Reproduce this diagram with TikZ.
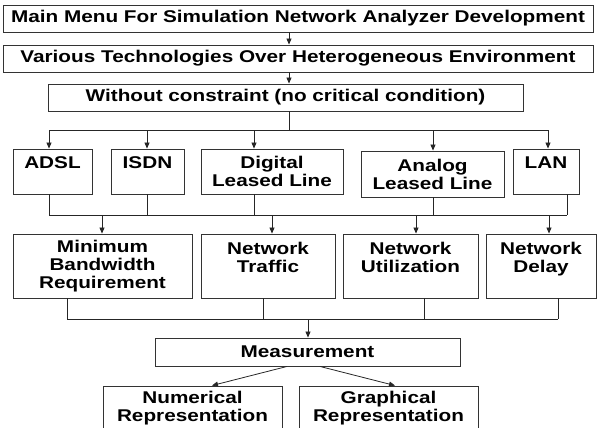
\documentclass[tikz,border=0pt]{standalone}
\usepackage{fontspec}
\setmainfont{Liberation Sans}[FakeStretch=1.22]
\usetikzlibrary{arrows.meta}
\begin{document}
\begin{tikzpicture}[x=1pt,y=-1pt,
  box/.style={draw=black!80, line width=0.9pt, inner sep=0pt, align=center,
    font=\fontsize{17}{18}\selectfont\bfseries},
  conn/.style={line width=0.8pt, draw=black!85},
  arr/.style={conn, -{Triangle[length=6pt,width=5pt]}}]
\useasboundingbox (0,0) rectangle (600,428);
\clip (0,0) rectangle (600,428);
% row 1-3
\node[box, minimum width=590pt, minimum height=27pt] (main) at (298,18.5) {Main Menu For Simulation Network Analyzer Development};
\node[box, minimum width=590pt, minimum height=27pt] (various) at (298,58.5) {Various Technologies Over Heterogeneous Environment};
\node[box, minimum width=475pt, minimum height=27pt] (without) at (285.5,97.5) {Without constraint (no critical condition)};
% technologies
\node[box, minimum width=79pt, minimum height=45pt] (adsl) at (52.5,171.5) {ADSL\\\mbox{}};
\node[box, minimum width=73pt, minimum height=45pt] (isdn) at (147.5,171.5) {ISDN\\\mbox{}};
\node[box, minimum width=142pt, minimum height=45pt] (digital) at (272,171.5) {Digital\\Leased Line};
\node[box, minimum width=143pt, minimum height=46pt] (analog) at (432.5,174) {Analog\\Leased Line};
\node[box, minimum width=66pt, minimum height=45pt] (lan) at (546,171.5) {LAN\\\mbox{}};
% metrics
\node[box, minimum width=179pt, minimum height=64pt] (minbw) at (102.5,266) {Minimum\\Bandwidth\\Requirement};
\node[box, minimum width=134pt, minimum height=64pt] (traffic) at (268,266) {Network\\Traffic\\\mbox{}};
\node[box, minimum width=135pt, minimum height=64pt] (util) at (410.5,266) {Network\\Utilization\\\mbox{}};
\node[box, minimum width=110pt, minimum height=64pt] (delay) at (541,266) {Network\\Delay\\\mbox{}};
% measurement
\node[box, minimum width=305pt, minimum height=28pt] (meas) at (307.5,352) {Measurement};
\node[box, minimum width=179pt, minimum height=45pt] (numer) at (192.5,408.5) {Numerical\\Representation};
\node[box, minimum width=179pt, minimum height=45pt] (graph) at (388.5,408.5) {Graphical\\Representation};
% top trunk
\coordinate (t0) at (289,0);
\draw[arr] (main.south -| t0) -- (various.north -| t0);
\draw[arr] (various.south -| t0) -- (without.north -| t0);
% bus 1
\coordinate (b1L) at (49,130);
\coordinate (b1R) at (548,130);
\draw[conn] (without.south -| t0) -- (b1L -| t0);
\draw[conn] (b1L) -- (b1R);
\coordinate (d2) at (147,130);
\coordinate (d3) at (254,130);
\coordinate (d4) at (433,130);
\draw[arr] (b1L) -- (b1L |- adsl.north);
\draw[arr] (d2) -- (d2 |- isdn.north);
\draw[arr] (d3) -- (d3 |- digital.north);
\draw[arr] (d4) -- (d4 |- analog.north);
\draw[arr] (b1R) -- (b1R |- lan.north);
% bus 2
\coordinate (b2L) at (49,215);
\coordinate (b2R) at (567,215);
\draw[conn] (b2L) -- (b2R);
\draw[conn] (b2L |- adsl.south) -- (b2L);
\draw[conn] (d2 |- isdn.south) -- (d2 |- b2L);
\draw[conn] (d3 |- digital.south) -- (d3 |- b2L);
\draw[conn] (d4 |- analog.south) -- (d4 |- b2L);
\draw[conn] (b2R |- lan.south) -- (b2R);
\coordinate (e1) at (102,215);
\coordinate (e2) at (272,215);
\coordinate (e3) at (416,215);
\coordinate (e4) at (549,215);
\draw[arr] (e1) -- (e1 |- minbw.north);
\draw[arr] (e2) -- (e2 |- traffic.north);
\draw[arr] (e3) -- (e3 |- util.north);
\draw[arr] (e4) -- (e4 |- delay.north);
% bus 3
\coordinate (b3L) at (67,319);
\coordinate (b3R) at (558,319);
\coordinate (f2) at (263,319);
\coordinate (f3) at (424,319);
\coordinate (m0) at (308,319);
\draw[conn] (b3L) -- (b3R);
\draw[conn] (b3L |- minbw.south) -- (b3L);
\draw[conn] (f2 |- traffic.south) -- (f2);
\draw[conn] (f3 |- util.south) -- (f3);
\draw[conn] (b3R |- delay.south) -- (b3R);
\draw[arr] (m0) -- (m0 |- meas.north);
% measurement outputs
\coordinate (s1) at (287,0);
\coordinate (s2) at (320,0);
\coordinate (n1) at (212,0);
\coordinate (g1) at (395,0);
\draw[arr] (s1 |- meas.south) -- (n1 |- numer.north);
\draw[arr] (s2 |- meas.south) -- (g1 |- graph.north);
\end{tikzpicture}
\end{document}
